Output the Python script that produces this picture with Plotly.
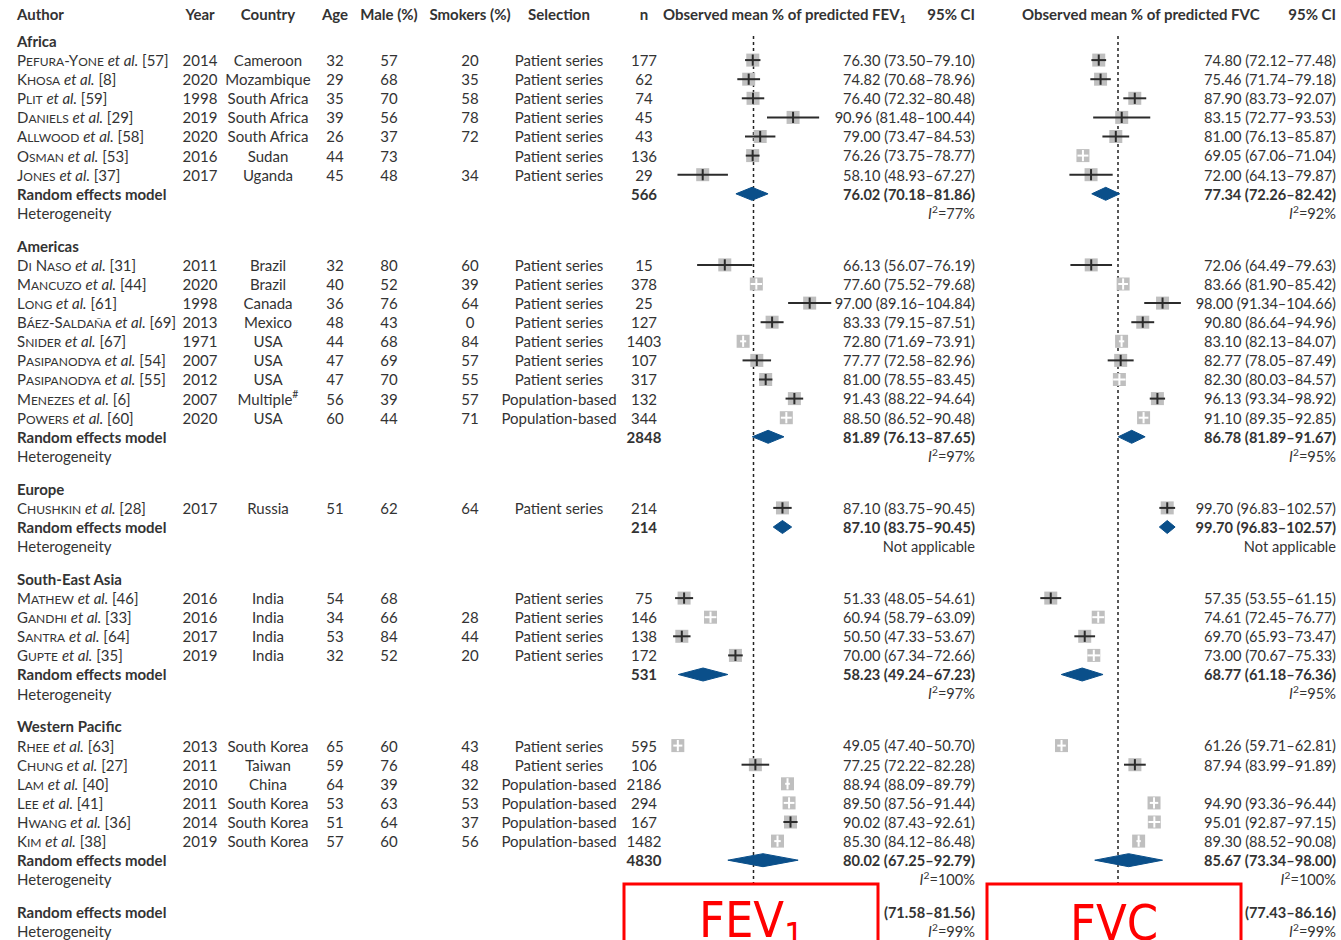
import itertools
import plotly.graph_objects as go

# ---------------------------------------------------------------- data
regions = ["Africa", "Americas", "Europe", "South-East Asia", "Western Pacific"]
study_region = [0] * 7 + [1] * 9 + [2] + [3] * 4 + [4] * 6
surnames = ["Pefura-Yone", "Khosa", "Plit", "Daniels", "Allwood", "Osman", "Jones",
            "Di Naso", "Mancuzo", "Long", "Báez-Saldaña", "Snider", "Pasipanodya",
            "Pasipanodya", "Menezes", "Powers", "Chushkin", "Mathew", "Gandhi",
            "Santra", "Gupte", "Rhee", "Chung", "Lam", "Lee", "Hwang", "Kim"]
refs = [57, 8, 59, 29, 58, 53, 37, 31, 44, 61, 69, 67, 54, 55, 6, 60, 28, 46, 33,
        64, 35, 63, 27, 40, 41, 36, 38]
years = [2014, 2020, 1998, 2019, 2020, 2016, 2017, 2011, 2020, 1998, 2013, 1971, 2007,
         2012, 2007, 2020, 2017, 2016, 2016, 2017, 2019, 2013, 2011, 2010, 2011, 2014, 2019]
countries = ["Cameroon", "Mozambique", "South Africa", "South Africa", "South Africa",
             "Sudan", "Uganda", "Brazil", "Brazil", "Canada", "Mexico", "USA", "USA",
             "USA", "Multiple<sup>#</sup>", "USA", "Russia", "India", "India", "India",
             "India", "South Korea", "Taiwan", "China", "South Korea", "South Korea",
             "South Korea"]
ages = [32, 29, 35, 39, 26, 44, 45, 32, 40, 36, 48, 44, 47, 47, 56, 60, 51, 54, 34, 53,
        32, 65, 59, 64, 53, 51, 57]
male_pct = [57, 68, 70, 56, 37, 73, 48, 80, 52, 76, 43, 68, 69, 70, 39, 44, 62, 68, 66,
            84, 52, 60, 76, 39, 63, 64, 60]
smokers_pct = [20, 35, 58, 78, 72, None, 34, 60, 39, 64, 0, 84, 57, 55, 57, 71, 64, None,
               28, 44, 20, 43, 48, 32, 53, 37, 56]
selection = (["Patient series"] * 14 + ["Population-based"] * 2 + ["Patient series"] * 7
             + ["Population-based"] * 4)
n_subj = [177, 62, 74, 45, 43, 136, 29, 15, 378, 25, 127, 1403, 107, 317, 132, 344, 214,
          75, 146, 138, 172, 595, 106, 2186, 294, 167, 1482]

fev1_est = [76.30, 74.82, 76.40, 90.96, 79.00, 76.26, 58.10, 66.13, 77.60, 97.00, 83.33,
            72.80, 77.77, 81.00, 91.43, 88.50, 87.10, 51.33, 60.94, 50.50, 70.00, 49.05,
            77.25, 88.94, 89.50, 90.02, 85.30]
fev1_lo = [73.50, 70.68, 72.32, 81.48, 73.47, 73.75, 48.93, 56.07, 75.52, 89.16, 79.15,
           71.69, 72.58, 78.55, 88.22, 86.52, 83.75, 48.05, 58.79, 47.33, 67.34, 47.40,
           72.22, 88.09, 87.56, 87.43, 84.12]
fev1_hi = [79.10, 78.96, 80.48, 100.44, 84.53, 78.77, 67.27, 76.19, 79.68, 104.84, 87.51,
           73.91, 82.96, 83.45, 94.64, 90.48, 90.45, 54.61, 63.09, 53.67, 72.66, 50.70,
           82.28, 89.79, 91.44, 92.61, 86.48]
fvc_est = [74.80, 75.46, 87.90, 83.15, 81.00, 69.05, 72.00, 72.06, 83.66, 98.00, 90.80,
           83.10, 82.77, 82.30, 96.13, 91.10, 99.70, 57.35, 74.61, 69.70, 73.00, 61.26,
           87.94, None, 94.90, 95.01, 89.30]
fvc_lo = [72.12, 71.74, 83.73, 72.77, 76.13, 67.06, 64.13, 64.49, 81.90, 91.34, 86.64,
          82.13, 78.05, 80.03, 93.34, 89.35, 96.83, 53.55, 72.45, 65.93, 70.67, 59.71,
          83.99, None, 93.36, 92.87, 88.52]
fvc_hi = [77.48, 79.18, 92.07, 93.53, 85.87, 71.04, 79.87, 79.63, 85.42, 104.66, 94.96,
          84.07, 87.49, 84.57, 98.92, 92.85, 102.57, 61.15, 76.77, 73.47, 75.33, 62.81,
          91.89, None, 96.44, 97.15, 90.08]

region_n = [566, 2848, 214, 531, 4830]
reg_fev1_est = [76.02, 81.89, 87.10, 58.23, 80.02]
reg_fev1_lo = [70.18, 76.13, 83.75, 49.24, 67.25]
reg_fev1_hi = [81.86, 87.65, 90.45, 67.23, 92.79]
reg_fvc_est = [77.34, 86.78, 99.70, 68.77, 85.67]
reg_fvc_lo = [72.26, 81.89, 96.83, 61.18, 73.34]
reg_fvc_hi = [82.42, 91.67, 102.57, 76.36, 98.00]
reg_i2_fev1 = [77, 97, None, 97, 100]
reg_i2_fvc = [92, 95, None, 95, 100]

overall_fev1 = [76.57, 71.58, 81.56]   # estimate (hidden by the box), lower, upper
overall_fvc = [81.80, 77.43, 86.16]
overall_i2_fev1 = 99
overall_i2_fvc = 99

# ---------------------------------------------------------------- layout constants
W, H = 1341, 940
FONT = "Lato, 'Noto Sans', sans-serif"
FS = 15
FS_CI = 14.6
TXT = "#333333"
Y_HEAD = 14
Y0, ROW, GAP = 41, 19.1, 32.9
TEXT_DY = 2.2            # baseline correction so text centres sit on the row line
X_AUTHOR = 17
X_YEAR, X_COUNTRY, X_AGE, X_MALE, X_SMOK, X_SEL, X_N = 200, 268, 335, 389, 470, 559, 644
X_FEV_HEAD, X_FEV_CI = 663, 975
X_FVC_HEAD, X_FVC_CI = 1022, 1336
PX_PER_UNIT = 2.75
FEV_REF_PX, FVC_REF_PX = 753.5, 1118
FEV_DOM, FVC_DOM = (650, 880), (1010, 1240)
SQ = 13
SQ_COLOR = "#bfbfbf"
LINE_DARK = "#2b2b2b"
DIAMOND = "#0a4f8a"
DIA_H = 6.5

# ---------------------------------------------------------------- row positions
sec_y, rem_y, het_y = [], [], []
study_y = [None] * len(surnames)
y = Y0
for r in range(len(regions)):
    sec_y.append(y)
    for i, reg in enumerate(study_region):
        if reg == r:
            y += ROW
            study_y[i] = y
    y += ROW
    rem_y.append(y)
    y += ROW
    het_y.append(y)
    y += GAP
overall_y = y
overall_het_y = y + ROW


def small_caps(name, small=12):
    out = []
    for low, grp in itertools.groupby(name, key=lambda c: c.islower()):
        s = "".join(grp)
        out.append(f"<span style='font-size:{small}px'>{s.upper()}</span>" if low else s)
    return "".join(out)


def i2(v):
    return "Not applicable" if v is None else f"<i>I</i><sup>2</sup>={v}%"


def ci_text(e, lo, hi, bold=False):
    t = f"{e:.2f} ({lo:.2f}\u2013{hi:.2f})"
    return f"<b>{t}</b>" if bold else t


traces = []


def text_trace(xs, ys, texts, pos, size=FS, color=TXT, xaxis="x"):
    keep = [(a, b, t) for a, b, t in zip(xs, ys, texts) if t not in (None, "")]
    traces.append(go.Scatter(
        x=[k[0] for k in keep], y=[k[1] + TEXT_DY for k in keep], text=[k[2] for k in keep],
        mode="text", textposition=pos,
        textfont=dict(family=FONT, size=size, color=color),
        hoverinfo="skip", showlegend=False, cliponaxis=False,
        xaxis=xaxis, yaxis="y"))


ns = len(surnames)
# header
head_items = [(X_AUTHOR, "Author", "middle right"), (X_YEAR, "Year", "middle center"),
              (X_COUNTRY, "Country", "middle center"), (X_AGE, "Age", "middle center"),
              (X_MALE, "Male (%)", "middle center"), (X_SMOK, "Smokers (%)", "middle center"),
              (X_SEL, "Selection", "middle center"), (X_N, "n", "middle center"),
              (X_FEV_HEAD, "Observed mean % of predicted FEV<sub>1</sub>", "middle right"),
              (X_FEV_CI, "95% CI", "middle left"),
              (X_FVC_HEAD, "Observed mean % of predicted FVC", "middle right"),
              (X_FVC_CI, "95% CI", "middle left")]
for hx, ht, hp in head_items:
    text_trace([hx], [Y_HEAD], [f"<b>{ht}</b>"], hp)

# left-hand column
authors = [f"{small_caps(s)} <i>et al.</i> [{r}]" for s, r in zip(surnames, refs)]
left_x = ([X_AUTHOR] * (ns + 3 * len(regions) + 2))
left_y = study_y + sec_y + rem_y + het_y + [overall_y, overall_het_y]
left_t = (authors + [f"<b>{r}</b>" for r in regions]
          + ["<b>Random effects model</b>"] * len(regions) + ["Heterogeneity"] * len(regions)
          + ["<b>Random effects model</b>", "Heterogeneity"])
text_trace(left_x, left_y, left_t, "middle right")

for cx, vals in [(X_YEAR, years), (X_COUNTRY, countries), (X_AGE, ages),
                 (X_MALE, male_pct), (X_SMOK, smokers_pct), (X_SEL, selection)]:
    text_trace([cx] * ns, study_y, [None if v is None else str(v) for v in vals],
               "middle center")
text_trace([X_N] * (ns + len(regions)), study_y + rem_y,
           [str(v) for v in n_subj] + [f"<b>{v}</b>" for v in region_n], "middle center")

# CI text columns
for cx, e, lo, hi, re_, rlo, rhi, ri2, ov, oi2 in [
        (X_FEV_CI, fev1_est, fev1_lo, fev1_hi, reg_fev1_est, reg_fev1_lo, reg_fev1_hi,
         reg_i2_fev1, overall_fev1, overall_i2_fev1),
        (X_FVC_CI, fvc_est, fvc_lo, fvc_hi, reg_fvc_est, reg_fvc_lo, reg_fvc_hi,
         reg_i2_fvc, overall_fvc, overall_i2_fvc)]:
    xs, ys, ts = [], [], []
    for k in range(ns):
        if e[k] is None:
            continue
        xs.append(cx); ys.append(study_y[k]); ts.append(ci_text(e[k], lo[k], hi[k]))
    for k in range(len(regions)):
        xs += [cx, cx]; ys += [rem_y[k], het_y[k]]
        ts += [ci_text(re_[k], rlo[k], rhi[k], True), i2(ri2[k])]
    xs += [cx, cx]; ys += [overall_y, overall_het_y]
    ts += [f"<b>({ov[1]:.2f}\u2013{ov[2]:.2f})</b>", i2(oi2)]
    text_trace(xs, ys, ts, "middle left", size=FS_CI)


# forest panels
def panel(xa, e, lo, hi, re_, rlo, rhi, ov):
    pts = [(e[k], lo[k], hi[k], study_y[k]) for k in range(ns) if e[k] is not None]
    traces.append(go.Scatter(
        x=[p[0] for p in pts], y=[p[3] for p in pts], mode="markers", xaxis=xa, yaxis="y",
        marker=dict(symbol="square", size=SQ, color=SQ_COLOR, line=dict(width=0)),
        hoverinfo="skip", showlegend=False, cliponaxis=False))
    for inside, col in [(False, LINE_DARK), (True, "white")]:
        lx, ly, tx, ty = [], [], [], []
        for pe, pl, ph, py in pts:
            if ((ph - pl) * PX_PER_UNIT < SQ) == inside:
                lx += [pl, ph, None]; ly += [py, py, None]
                tx.append(pe); ty.append(py)
        traces.append(go.Scatter(
            x=lx, y=ly, mode="lines", xaxis=xa, yaxis="y", line=dict(color=col, width=2),
            hoverinfo="skip", showlegend=False, cliponaxis=False))
        traces.append(go.Scatter(
            x=tx, y=ty, mode="markers", xaxis=xa, yaxis="y",
            marker=dict(symbol="line-ns", size=8, line=dict(color=col, width=2)),
            hoverinfo="skip", showlegend=False, cliponaxis=False))
    dx, dy = [], []
    for de, dl, dh, yy in list(zip(re_, rlo, rhi, rem_y)) + [(ov[0], ov[1], ov[2], overall_y)]:
        dx += [dl, de, dh, de, dl, None]
        dy += [yy, yy - DIA_H, yy, yy + DIA_H, yy, None]
    traces.append(go.Scatter(
        x=dx, y=dy, mode="lines", fill="toself", fillcolor=DIAMOND, xaxis=xa, yaxis="y",
        line=dict(color=DIAMOND, width=1), hoverinfo="skip", showlegend=False,
        cliponaxis=False))


panel("x2", fev1_est, fev1_lo, fev1_hi, reg_fev1_est, reg_fev1_lo, reg_fev1_hi, overall_fev1)
panel("x3", fvc_est, fvc_lo, fvc_hi, reg_fvc_est, reg_fvc_lo, reg_fvc_hi, overall_fvc)


def axis_range(dom, ref_px, ref_val):
    return [ref_val - (ref_px - dom[0]) / PX_PER_UNIT, ref_val + (dom[1] - ref_px) / PX_PER_UNIT]


fig = go.Figure(traces)
hidden = dict(visible=False, showgrid=False, zeroline=False, fixedrange=True)
fig.update_layout(
    width=W, height=H, margin=dict(l=0, r=0, t=0, b=0),
    paper_bgcolor="white", plot_bgcolor="rgba(0,0,0,0)", showlegend=False,
    xaxis=dict(domain=[0, 1], range=[0, W], **hidden),
    xaxis2=dict(domain=[FEV_DOM[0] / W, FEV_DOM[1] / W],
                range=axis_range(FEV_DOM, FEV_REF_PX, overall_fev1[0]), anchor="y", **hidden),
    xaxis3=dict(domain=[FVC_DOM[0] / W, FVC_DOM[1] / W],
                range=axis_range(FVC_DOM, FVC_REF_PX, overall_fvc[0]), anchor="y", **hidden),
    yaxis=dict(domain=[0, 1], range=[H, 0], **hidden),
)

# dotted reference lines at the overall estimate
for xa, ov in [("x2", overall_fev1), ("x3", overall_fvc)]:
    fig.add_shape(type="line", xref=xa, yref="y", x0=ov[0], x1=ov[0], y0=36, y1=H,
                  line=dict(color="#222222", width=1.5, dash="dot"), layer="below")

# red boxes with labels
for (bx0, bx1), label in [((624, 878), "FEV<sub>1</sub>"), ((987, 1241), "FVC")]:
    fig.add_shape(type="rect", xref="x", yref="y", x0=bx0, x1=bx1, y0=884, y1=H + 10,
                  line=dict(color="#ff0000", width=3), fillcolor="white", layer="above")
    fig.add_annotation(x=(bx0 + bx1) / 2, y=923, xref="x", yref="y", text=label,
                       showarrow=False, xanchor="center", yanchor="middle",
                       font=dict(family="'Liberation Sans Narrow', 'DejaVu Sans Condensed', sans-serif",
                                 size=50, color="#ff0000"))

fig.write_html("out.html")
